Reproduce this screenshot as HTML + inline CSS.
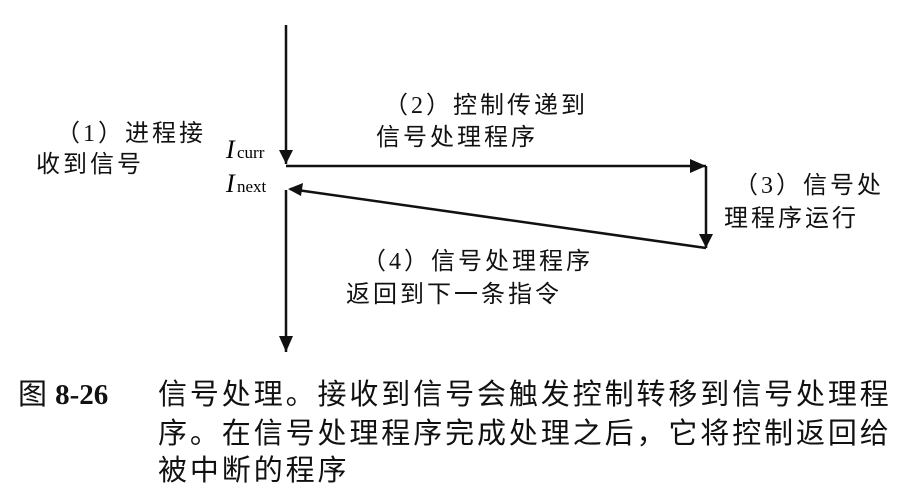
<!DOCTYPE html>
<html><head><meta charset="utf-8"><style>
body{margin:0;width:906px;height:504px;background:#fff;overflow:hidden;position:relative;font-family:"Liberation Serif","Noto Serif CJK SC",serif;color:#111}
.t{position:absolute;font-size:24px;line-height:28px;letter-spacing:3px;white-space:nowrap;font-family:"Liberation Serif","Noto Sans CJK SC",sans-serif}
.c{position:absolute;font-size:29px;line-height:36px;letter-spacing:2.9px;white-space:nowrap;font-family:"Liberation Sans","Noto Sans CJK SC",sans-serif}
</style></head><body>
<svg width="906" height="504" style="position:absolute;left:0;top:0">
<g stroke="#111" stroke-width="2.5" fill="none">
<line x1="286" y1="25" x2="286" y2="164"/>
<path d="M279,150 L286,164 L293,150z" fill="#111" stroke="none"/>
<line x1="286" y1="166" x2="706" y2="166"/>
<path d="M690,159 L706,166 L690,173z" fill="#111" stroke="none"/>
<line x1="706" y1="166" x2="706" y2="248"/>
<path d="M699,234 L706,248 L713,234z" fill="#111" stroke="none"/>
<line x1="706" y1="248" x2="290" y2="189"/>
<path d="M288,189 L303,183 L301,196z" fill="#111" stroke="none"/>
<line x1="286" y1="190" x2="286" y2="352"/>
<path d="M279,336 L286,352 L293,336z" fill="#111" stroke="none"/>
</g>
<text x="226" y="158" font-family="Liberation Serif" font-style="italic" font-size="26">I</text>
<text x="237" y="158" font-family="Liberation Serif" font-size="17">curr</text>
<text x="226" y="192" font-family="Liberation Serif" font-style="italic" font-size="26">I</text>
<text x="237" y="192" font-family="Liberation Serif" font-size="17">next</text>
</svg>
<div class="t" style="left:56px;top:120px">（1）进程接</div>
<div class="t" style="left:36px;top:151px">收到信号</div>
<div class="t" style="left:384px;top:92px">（2）控制传递到</div>
<div class="t" style="left:376px;top:124px">信号处理程序</div>
<div class="t" style="left:734px;top:172px">（3）信号处</div>
<div class="t" style="left:724px;top:205px">理程序运行</div>
<div class="t" style="left:362px;top:248px">（4）信号处理程序</div>
<div class="t" style="left:346px;top:281px">返回到下一条指令</div>
<div class="c" style="left:18px;top:377px;letter-spacing:0">图 <b style="font-family:'Liberation Serif'">8-26</b></div>
<div class="c" style="left:158px;top:377px">信号处理。接收到信号会触发控制转移到信号处理程</div>
<div class="c" style="left:158px;top:416px">序。在信号处理程序完成处理之后，它将控制返回给</div>
<div class="c" style="left:158px;top:453px">被中断的程序</div>
</body></html>
